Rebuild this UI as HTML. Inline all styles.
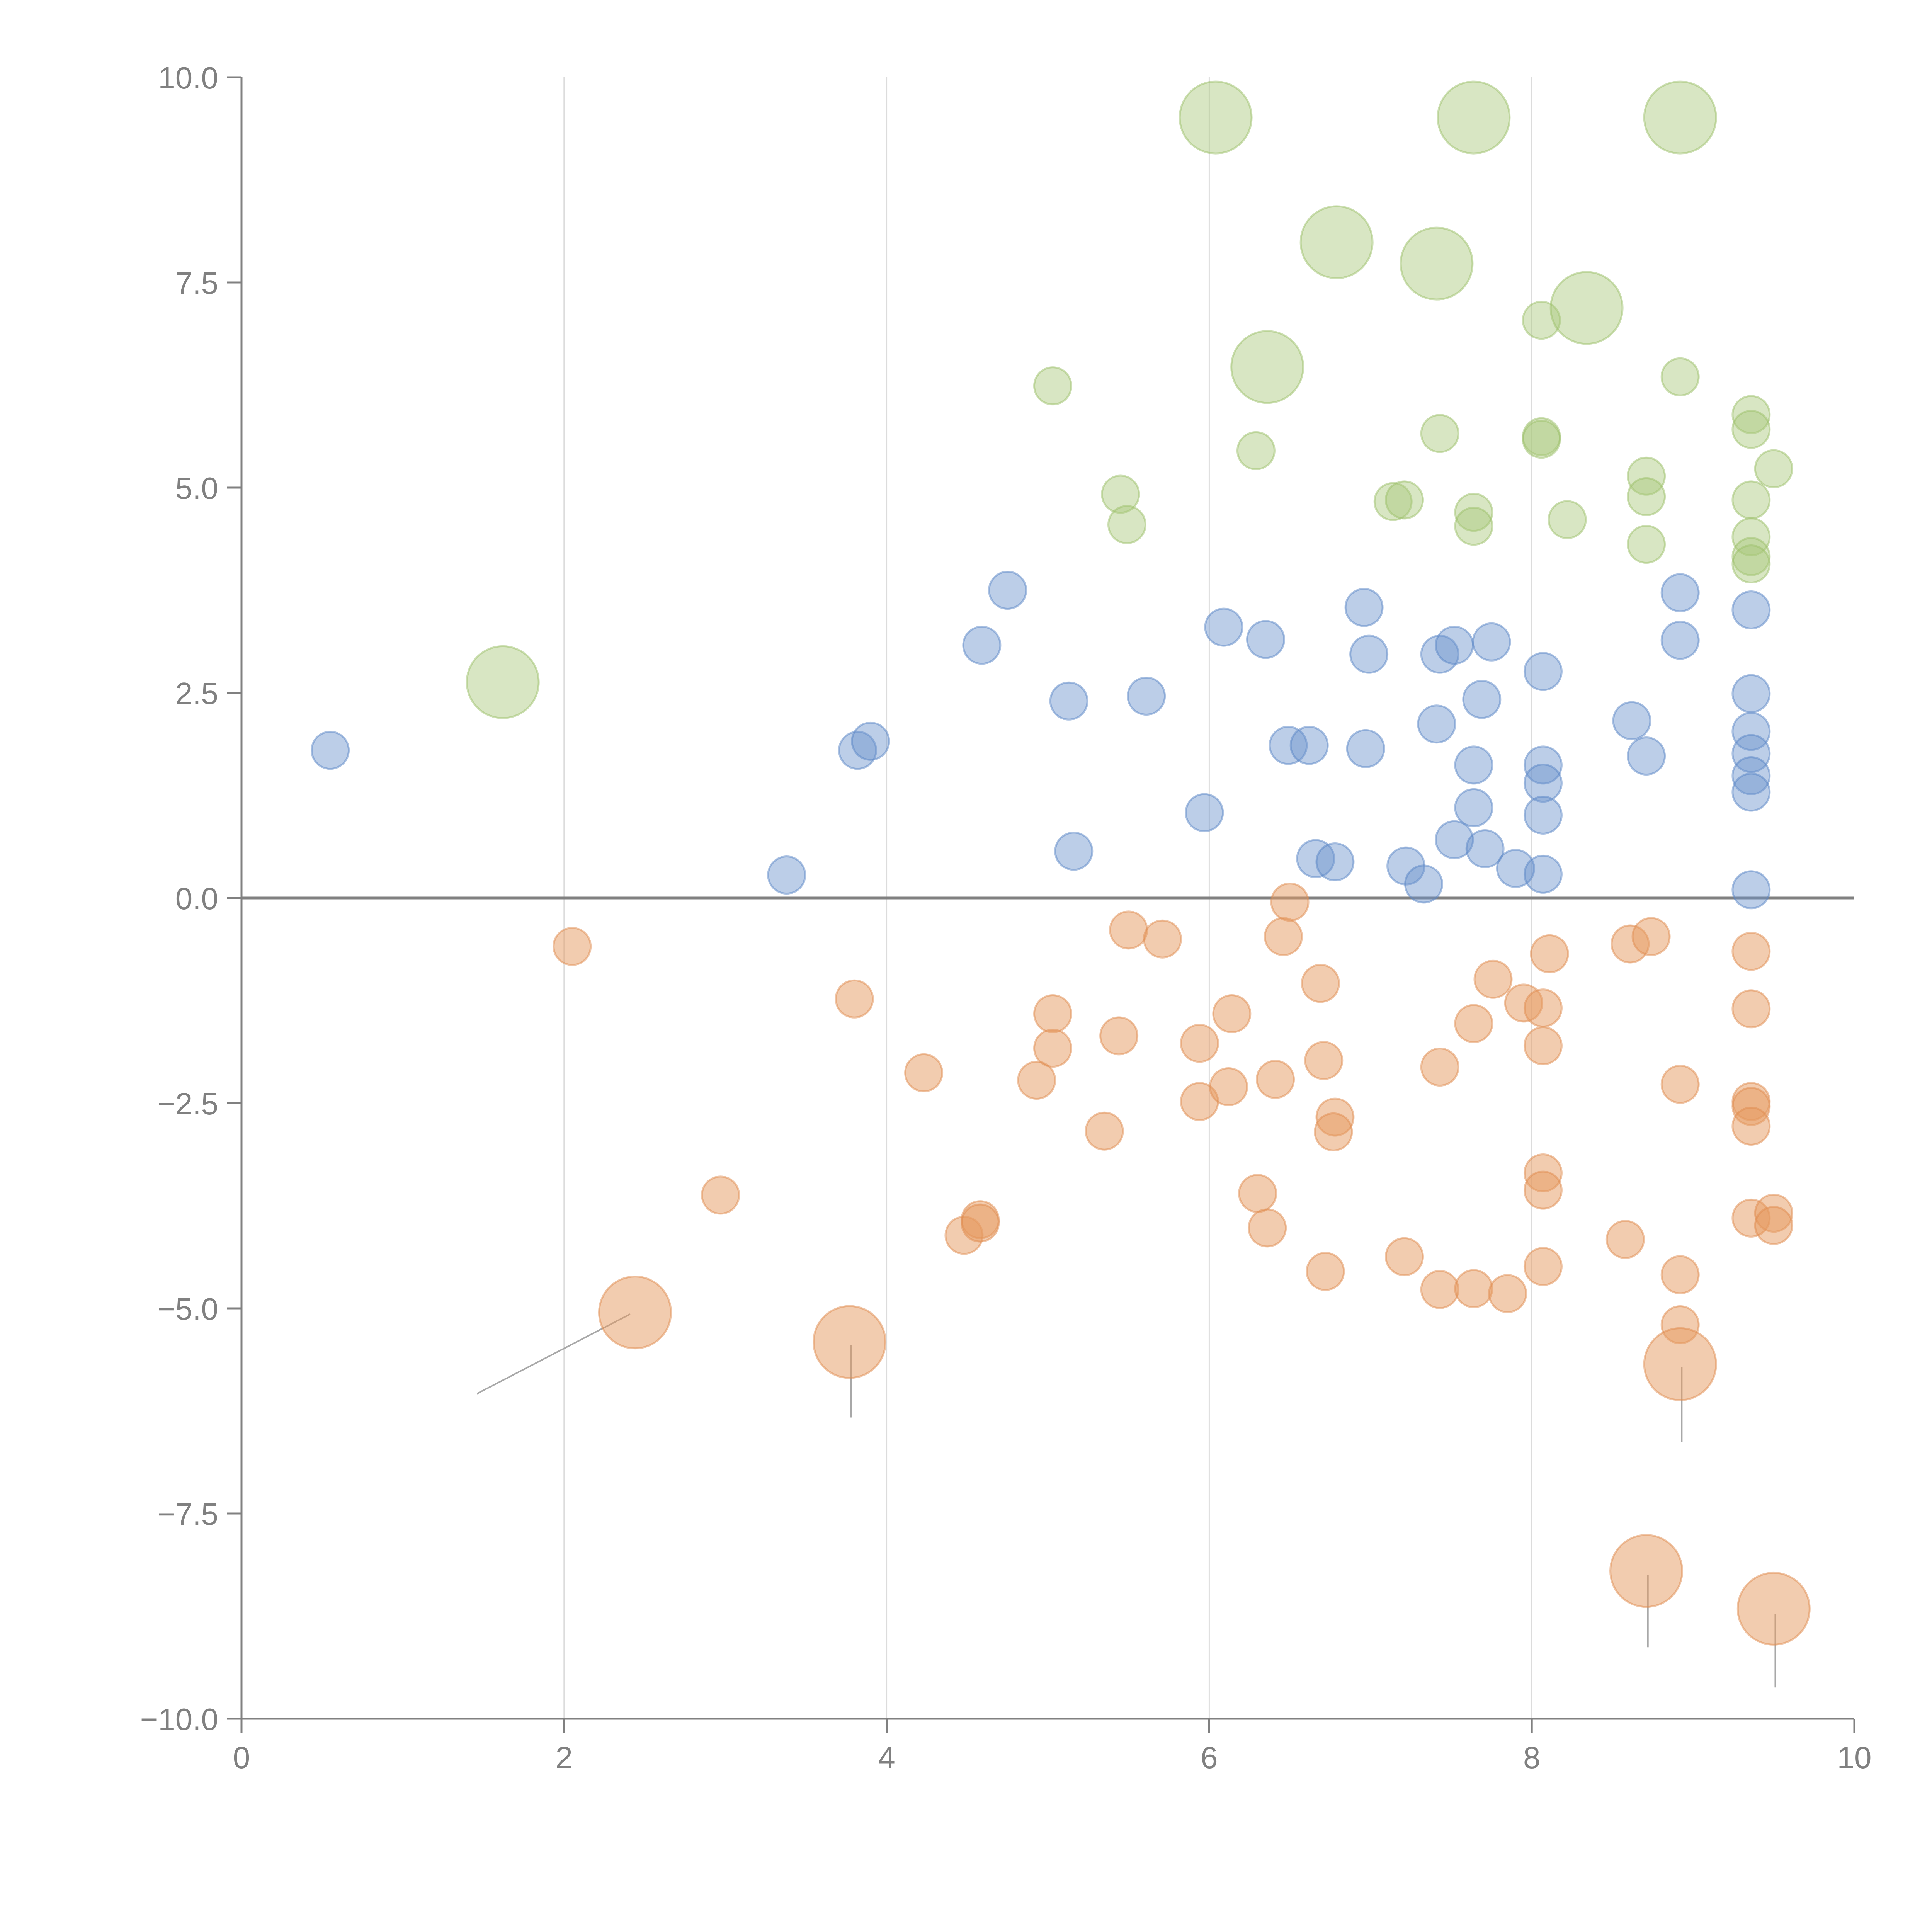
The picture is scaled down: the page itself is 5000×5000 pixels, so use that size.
<!DOCTYPE html>
<html><head><meta charset="utf-8"><style>
html,body{margin:0;padding:0;background:#fff}
svg{display:block}
text{font-family:"Liberation Sans",sans-serif;fill:#808080}
</style></head><body>
<svg id="chart" width="5000" height="5000" viewBox="0 0 5000 5000" xmlns="http://www.w3.org/2000/svg">
<g id="grid"></g>
<g id="leaders"></g>
<g id="marks"></g>
<g id="axes"></g>
</svg>
<script>
const xTicks=[0,2,4,6,8,10];
const yTicks=[-10,-7.5,-5,-2.5,0,2.5,5,7.5,10];
const greenX=[5.03,5.45,5.49,6.29,7.43,7.14,7.21,7.64,7.64,8.06,8.06,8.06,8.22,8.71,8.71,8.71,8.92,9.36,9.36,9.50,9.36,9.36,9.36,9.36,6.04,7.64,8.92,6.79,7.41,8.34,6.36,1.62];
const greenY=[6.24,4.92,4.55,5.45,5.66,4.83,4.85,4.70,4.53,7.04,5.62,5.59,4.61,5.14,4.89,4.31,6.35,5.89,5.71,5.23,4.85,4.40,4.16,4.07,9.51,9.51,9.51,7.99,7.73,7.19,6.47,2.63];
const greenS=[1,1,1,1,1,1,1,1,1,1,1,1,1,1,1,1,1,1,1,1,1,1,1,1,2,2,2,2,2,2,2,2];
const blueX=[0.55,3.38,3.82,3.90,4.59,4.75,5.13,5.16,5.61,5.97,6.09,6.35,6.49,6.62,6.66,6.78,6.96,6.99,6.97,7.22,7.33,7.41,7.43,7.52,7.52,7.64,7.64,7.69,7.71,7.75,7.90,8.07,8.07,8.07,8.07,8.07,8.62,8.71,8.92,8.92,9.36,9.36,9.36,9.36,9.36,9.36,9.36];
const blueY=[1.80,0.28,1.80,1.91,3.08,3.75,2.40,0.57,2.46,1.04,3.30,3.15,1.86,1.86,0.48,0.44,3.54,2.97,1.82,0.39,0.17,2.12,2.97,3.08,0.71,1.62,1.10,2.42,0.60,3.12,0.36,2.76,1.62,1.40,1.01,0.29,2.16,1.73,3.72,3.14,3.51,2.49,2.03,1.76,1.49,1.29,0.10];
const orangeX=[2.05,2.97,3.80,4.23,4.48,4.58,4.58,4.93,5.03,5.03,5.35,5.44,5.50,5.71,5.94,5.94,6.12,6.14,6.30,6.36,6.41,6.46,6.50,6.69,6.71,6.72,6.78,6.77,7.21,7.43,7.43,7.64,7.64,7.76,7.85,7.95,8.07,8.07,8.11,8.07,8.07,8.07,8.58,8.61,8.74,8.92,8.92,8.92,9.36,9.36,9.36,9.36,9.36,9.36,9.50,9.50,2.44,3.77,8.92,8.71,9.50];
const orangeY=[-0.59,-3.62,-1.23,-2.13,-4.11,-3.92,-3.96,-2.22,-1.41,-1.83,-2.84,-1.68,-0.39,-0.50,-1.77,-2.48,-2.30,-1.41,-3.60,-4.02,-2.21,-0.47,-0.05,-1.04,-1.98,-4.55,-2.67,-2.85,-4.37,-2.06,-4.77,-1.53,-4.76,-0.99,-4.82,-1.28,-1.34,-1.80,-0.68,-3.35,-3.56,-4.49,-4.16,-0.56,-0.47,-2.27,-4.59,-5.20,-0.65,-1.35,-2.48,-2.54,-2.78,-3.90,-3.84,-3.99,-5.05,-5.41,-5.68,-8.20,-8.66];
const orangeS=[1,1,1,1,1,1,1,1,1,1,1,1,1,1,1,1,1,1,1,1,1,1,1,1,1,1,1,1,1,1,1,1,1,1,1,1,1,1,1,1,1,1,1,1,1,1,1,1,1,1,1,1,1,1,1,1,2,2,2,2,2];
const leaderX1=[1.46,3.78,8.93,8.72,9.51];
const leaderY1=[-6.04,-5.45,-5.72,-8.25,-8.72];
const leaderX2=[2.41,3.78,8.93,8.72,9.51];
const leaderY2=[-5.07,-6.33,-6.63,-9.13,-9.62];

const X0=625,X1=4799,Y0=4448,Y1=200;
const sx=v=>X0+(v-0)/(10-0)*(X1-X0);
const sy=v=>Y0-(v+10)/20*(Y0-Y1);
const rOf=s=>s===2?93:48;
const NS='http://www.w3.org/2000/svg';
function mk(tag,attrs,parent){const e=document.createElementNS(NS,tag);for(const k in attrs)e.setAttribute(k,attrs[k]);parent.appendChild(e);return e;}
const grid=document.getElementById('grid'),marks=document.getElementById('marks'),axes=document.getElementById('axes'),leaders=document.getElementById('leaders');
[2,4,6,8].forEach(v=>{const l=mk('line',{x1:sx(v),x2:sx(v),y1:Y1,y2:Y0,stroke:'#dcdcdc','stroke-width':3},grid);

});
const z=mk('line',{x1:X0,x2:X1,y1:sy(0),y2:sy(0),stroke:'#808080','stroke-width':7},grid);


for(let i=0;i<leaderX1.length;i++){const l=mk('line',{x1:sx(leaderX1[i]),y1:sy(leaderY1[i]),x2:sx(leaderX2[i]),y2:sy(leaderY2[i]),stroke:'#a8a8a8','stroke-width':4},leaders);

}
function series(xs,ys,ss,fill,stroke,op,name){for(let i=0;i<xs.length;i++){const c=mk('circle',{cx:sx(xs[i]),cy:sy(ys[i]),r:rOf(ss?ss[i]:1),fill:fill,'fill-opacity':op,stroke:stroke,'stroke-opacity':0.5,'stroke-width':5},marks);

}}
series(greenX,greenY,greenS,'#a9c87b','#9cbf6a',0.45,'green-bubble');
series(blueX,blueY,null,'#6a92cc','#5a86c5',0.45,'blue-bubble');
series(orangeX,orangeY,orangeS,'#e59a60','#df8c50',0.5,'orange-bubble');
const ya=mk('line',{x1:X0,x2:X0,y1:Y1,y2:Y0,stroke:'#808080','stroke-width':5},axes);


const xa=mk('line',{x1:X0,x2:X1,y1:Y0,y2:Y0,stroke:'#808080','stroke-width':5},axes);


yTicks.forEach(v=>{const t=mk('line',{x1:X0-37,x2:X0,y1:sy(v),y2:sy(v),stroke:'#808080','stroke-width':5},axes);


const tx=mk('text',{x:X0-60,y:sy(v)+29,'text-anchor':'end','font-size':80},axes);
tx.textContent=(v<0?'\u2212':'')+Math.abs(v).toFixed(1);

});
xTicks.forEach(v=>{const t=mk('line',{x1:sx(v),x2:sx(v),y1:Y0,y2:Y0+37,stroke:'#808080','stroke-width':5},axes);


const tx=mk('text',{x:sx(v),y:Y0+128,'text-anchor':'middle','font-size':80},axes);
tx.textContent=String(v);

});
</script>
</body></html>
